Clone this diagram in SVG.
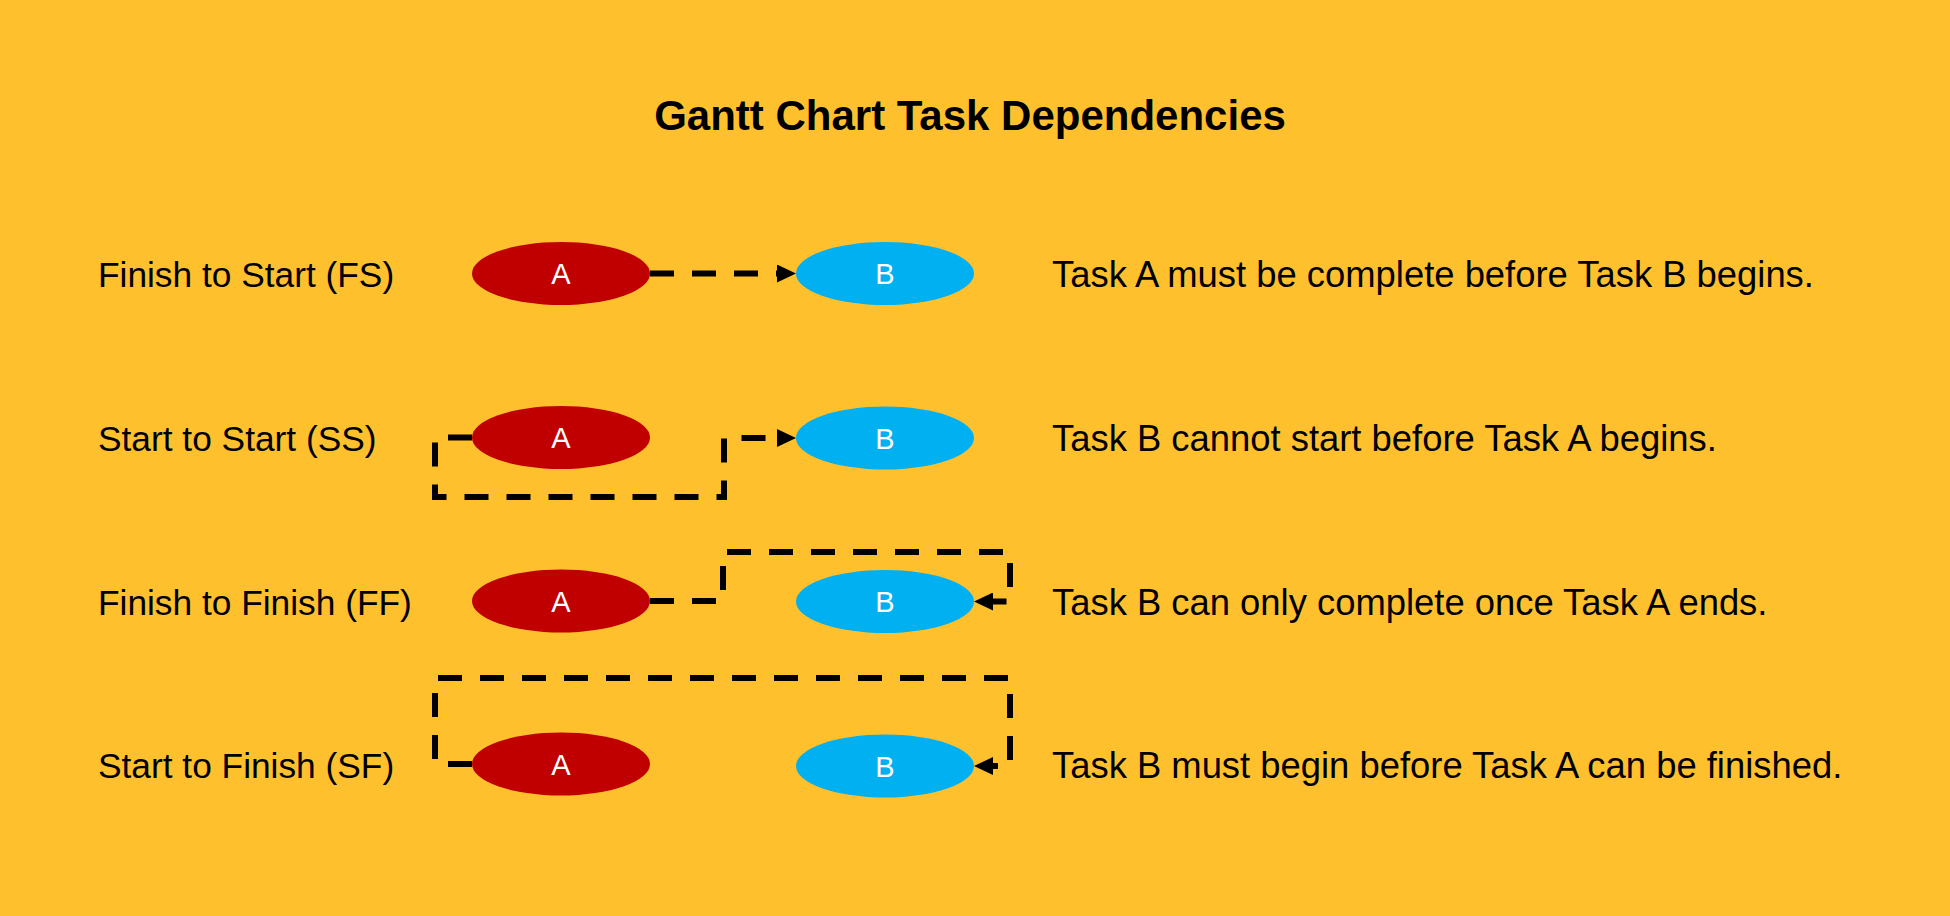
<svg xmlns="http://www.w3.org/2000/svg" width="1950" height="916" viewBox="0 0 1950 916">
<defs>
<style>
.lbl{font-family:"Liberation Sans",Arial,sans-serif;font-size:35.3px;fill:#000}
.desc{font-family:"Liberation Sans",Arial,sans-serif;font-size:36.4px;fill:#000}
.title{font-family:"Liberation Sans",Arial,sans-serif;font-size:42px;font-weight:bold;fill:#000}
.nt{font-family:"Liberation Sans",Arial,sans-serif;font-size:29px;fill:#fff;text-anchor:middle}
.a{fill:#C00000}
.b{fill:#00B0F0}
.con{fill:none;stroke:#000;stroke-width:6;stroke-dasharray:24 18;stroke-linejoin:miter;marker-end:url(#arr)}
</style>
<marker id="arr" markerUnits="userSpaceOnUse" markerWidth="19" markerHeight="18" viewBox="0 0 19 18" refX="0" refY="9" orient="auto">
<path d="M0,0 L19,9 L0,18 Z" fill="#000"/>
</marker>
</defs>
<rect width="1950" height="916" fill="#FFC02D"/>
<text class="title" x="970" y="130" text-anchor="middle">Gantt Chart Task Dependencies</text>

<g id="connectors">
<path class="con" d="M650,273.5 H777"/>
<path class="con" d="M472,437.5 H435 V497 H724 V438 H777"/>
<path class="con" d="M650,601 H723 V552 H1010 V601.5 H993"/>
<path class="con" d="M472,764 H435 V678 H1010 V766 H993"/>
</g>

<g id="row1">
<text class="lbl" x="98" y="287">Finish to Start (FS)</text>
<g id="fs-a"><ellipse class="a" cx="561" cy="273.5" rx="89" ry="31.5"/><text class="nt" x="561" y="284">A</text></g>
<g id="fs-b"><ellipse class="b" cx="885" cy="273.5" rx="89" ry="31.5"/><text class="nt" x="885" y="284">B</text></g>
<text class="desc" x="1052" y="287">Task A must be complete before Task B begins.</text>
</g>

<g id="row2">
<text class="lbl" x="98" y="451">Start to Start (SS)</text>
<g id="ss-a"><ellipse class="a" cx="561" cy="437.5" rx="89" ry="31.5"/><text class="nt" x="561" y="448">A</text></g>
<g id="ss-b"><ellipse class="b" cx="885" cy="438" rx="89" ry="31.5"/><text class="nt" x="885" y="448.5">B</text></g>
<text class="desc" x="1052" y="451">Task B cannot start before Task A begins.</text>
</g>

<g id="row3">
<text class="lbl" x="98" y="615">Finish to Finish (FF)</text>
<g id="ff-a"><ellipse class="a" cx="561" cy="601" rx="89" ry="31.5"/><text class="nt" x="561" y="611.5">A</text></g>
<g id="ff-b"><ellipse class="b" cx="885" cy="601.5" rx="89" ry="31.5"/><text class="nt" x="885" y="612">B</text></g>
<text class="desc" x="1052" y="615">Task B can only complete once Task A ends.</text>
</g>

<g id="row4">
<text class="lbl" x="98" y="778">Start to Finish (SF)</text>
<g id="sf-a"><ellipse class="a" cx="561" cy="764" rx="89" ry="31.5"/><text class="nt" x="561" y="774.5">A</text></g>
<g id="sf-b"><ellipse class="b" cx="885" cy="766" rx="89" ry="31.5"/><text class="nt" x="885" y="776.5">B</text></g>
<text class="desc" x="1052" y="778">Task B must begin before Task A can be finished.</text>
</g>
</svg>
